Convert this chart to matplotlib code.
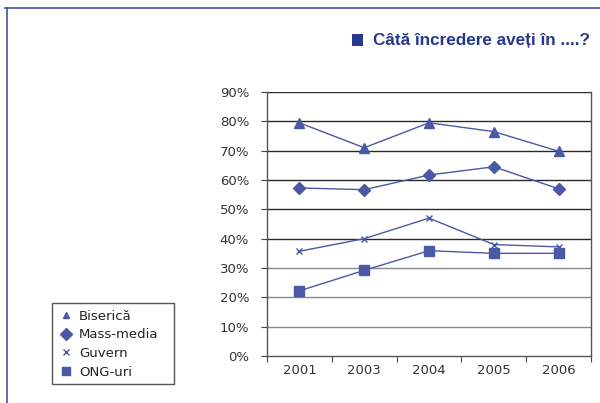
import matplotlib
matplotlib.use("Agg")
import matplotlib.pyplot as plt
from matplotlib.lines import Line2D
from matplotlib.patches import Rectangle

years = ["2001", "2003", "2004", "2005", "2006"]
biserica = [79.5, 71, 79.5, 76.5, 69.8]
mass_media = [57.3, 56.7, 61.7, 64.5, 57]
guvern = [35.7, 40, 47, 38, 37.2]
ong = [22.2, 29.2, 35.9, 35, 35]
yticks = [0, 10, 20, 30, 40, 50, 60, 70, 80, 90]

blue = "#4a58a5"
frame_blue = "#3a55a8"
title_blue = "#27398a"

plt.rcParams['font.family'] = ['DejaVu Sans']

fig = plt.figure(figsize=(6.0, 4.03), dpi=100)
W, H = 600, 403
ax = fig.add_axes([267 / W, 1 - 356 / H, (591 - 267) / W, (356 - 92) / H])

x = [i + 0.5 for i in range(len(years))]
series = [
    ("Biserică", biserica, "^", 6.5, 5),
    ("Mass-media", mass_media, "D", 6.5, 6),
    ("Guvern", guvern, "x", 4, 4),
    ("ONG-uri", ong, "s", 6.5, 6),
]
for name, vals, m, ms, lms in series:
    ax.plot(x, vals, color=blue, lw=1.0, marker=m, ms=ms, mew=1.0,
            mfc=blue, mec=blue, label=name, zorder=3)

ax.set_xlim(0, len(years))
ax.set_ylim(0, 90)
ax.set_yticks(yticks)
ax.set_yticklabels([f"{v}%" for v in yticks])
ax.set_xticks(range(len(years) + 1))
ax.set_xticklabels([])
ax.set_xticks(x, minor=True)
ax.set_xticklabels(years, minor=True)
ax.tick_params(axis='x', which='minor', length=0, pad=6, labelsize=9.5, labelcolor="#333333")
ax.tick_params(axis='x', which='major', length=4.3, direction='out', color="#444444")
ax.tick_params(axis='y', length=4.3, direction='out', labelsize=9.5, color="#444444",
               labelcolor="#333333", pad=8.5)
# horizontal gridlines
for v in yticks[1:]:
    c = "#8a8a8a" if v <= 30 else "#2a2a2a"
    ax.axhline(v, color=c, lw=1.0, zorder=1)
for s in ["left", "bottom", "right"]:
    ax.spines[s].set_color("#555555")
    ax.spines[s].set_linewidth(1.0)
ax.spines["top"].set_visible(False)

leg = ax.legend(loc="upper left", bbox_to_anchor=(51 / W, 1 - 303 / H),
                bbox_transform=fig.transFigure, frameon=False, fontsize=9.5,
                handlelength=1.23, handletextpad=0.39, borderpad=0.5,
                labelspacing=0.43, borderaxespad=0)
for h, (name, vals, m, ms, lms) in zip(leg.legend_handles, series):
    h.set_linestyle("none")
    h.set_markersize(lms)
for t in leg.get_texts():
    t.set_color("#222222")
fig.add_artist(Rectangle((51.5 / W, 1 - 384 / H), 122.5 / W, 81 / H, facecolor="none",
                         edgecolor="#555555", lw=1.0, transform=fig.transFigure))

# frame lines
fig.add_artist(Line2D([5 / W, 1], [1 - 8 / H, 1 - 8 / H], color=frame_blue, lw=1.2,
                      transform=fig.transFigure))
fig.add_artist(Line2D([6.5 / W, 6.5 / W], [0, 1 - 8 / H], color=frame_blue, lw=1.2,
                      transform=fig.transFigure))

# title with square bullet
fig.add_artist(Rectangle((352 / W, 1 - 45.5 / H), 11 / W, 11 / H, facecolor=title_blue,
                         edgecolor="none", transform=fig.transFigure))
fig.text(373 / W, 1 - 40.5 / H, "Câtă încredere aveți în ....?", ha="left", va="center",
         fontsize=12.3, fontweight="bold", color=title_blue,
         family=['Liberation Sans', 'DejaVu Sans'])

fig.savefig("out.png", dpi=100)
